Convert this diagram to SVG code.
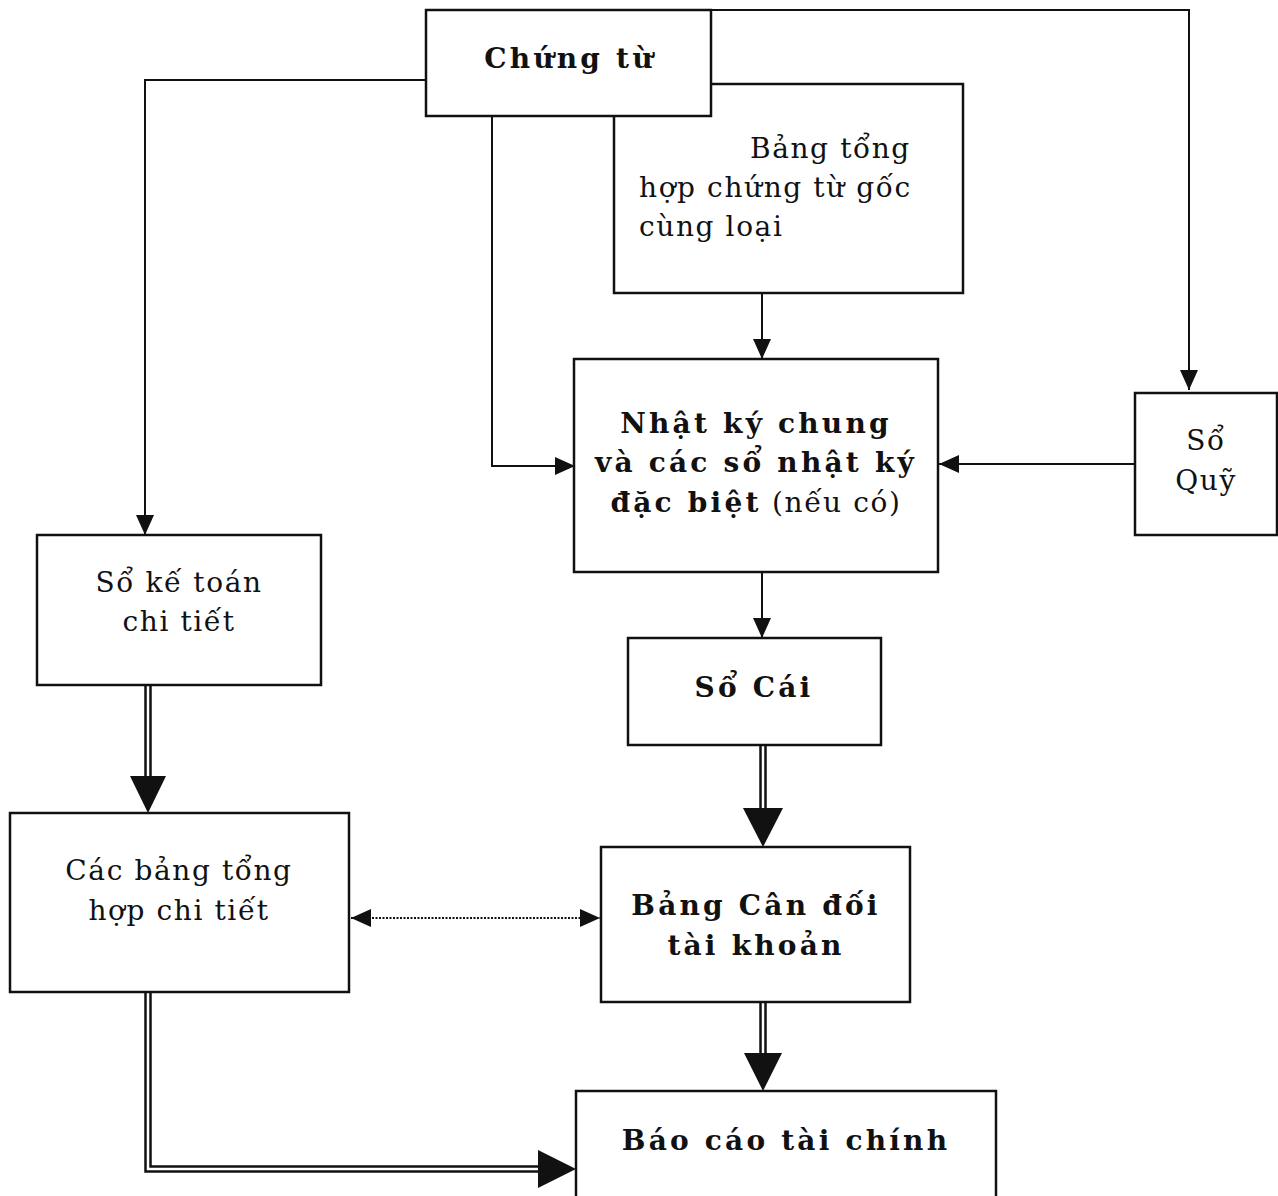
<svg xmlns="http://www.w3.org/2000/svg" width="1278" height="1196" viewBox="0 0 1278 1196">
<defs>
<marker id="a" markerWidth="20" markerHeight="18" refX="20" refY="9" orient="auto" markerUnits="userSpaceOnUse"><path d="M0,0 L20,9 L0,18 Z" fill="#111"/></marker>
<marker id="as" markerWidth="20" markerHeight="18" refX="20" refY="9" orient="auto-start-reverse" markerUnits="userSpaceOnUse"><path d="M0,0 L20,9 L0,18 Z" fill="#111"/></marker>
</defs>
<style>
.b{fill:#fff;stroke:#111;stroke-width:2.5}
.l{fill:none;stroke:#111;stroke-width:2}
.d1{fill:none;stroke:#111;stroke-width:7.5}
.d2{fill:none;stroke:#fff;stroke-width:2.5}
.h{fill:#111}
text{font-family:"DejaVu Serif","Liberation Serif",serif;font-size:28px;fill:#111;letter-spacing:1.6px}
.t{font-weight:bold;letter-spacing:3.2px}
.c{text-anchor:middle}
</style>
<rect width="1278" height="1196" fill="#fff"/>
<g id="connectors">
<polyline class="l" points="711,10 1189,10 1189,390" marker-end="url(#a)"/>
<polyline class="l" points="426,80 145,80 145,535" marker-end="url(#a)"/>
<polyline class="l" points="492,116 492,466 575,466" marker-end="url(#a)"/>
<line class="l" x1="762" y1="293" x2="762" y2="359" marker-end="url(#a)"/>
<line class="l" x1="1135" y1="464" x2="939" y2="464" marker-end="url(#a)"/>
<line class="l" x1="762" y1="572" x2="762" y2="638" marker-end="url(#a)"/>
<line class="l" x1="351" y1="918" x2="600" y2="918" stroke-dasharray="2,1.5" marker-start="url(#as)" marker-end="url(#a)"/>
<line class="d1" x1="148" y1="685" x2="148" y2="780"/><line class="d2" x1="148" y1="685" x2="148" y2="780"/>
<polygon class="h" points="130,776 166,776 148,813"/>
<line class="d1" x1="763" y1="745" x2="763" y2="812"/><line class="d2" x1="763" y1="745" x2="763" y2="812"/>
<polygon class="h" points="743,808 783,808 763,847"/>
<line class="d1" x1="763" y1="1002" x2="763" y2="1056"/><line class="d2" x1="763" y1="1002" x2="763" y2="1056"/>
<polygon class="h" points="744,1053 782,1053 763,1091"/>
<polyline class="d1" points="148,992 148,1169 540,1169"/><polyline class="d2" points="148,992 148,1169 540,1169"/>
<polygon class="h" points="538,1150 576,1169 538,1188"/>
</g>
<g id="bang-tong-hop">
<rect class="b" x="614" y="84" width="349" height="209"/>
<text x="750" y="158">Bảng tổng</text>
<text x="639" y="197">hợp chứng từ gốc</text>
<text x="639" y="236">cùng loại</text>
</g>
<g id="chung-tu">
<rect class="b" x="426" y="10" width="285" height="106"/>
<text class="t c" x="570" y="68">Chứng từ</text>
</g>
<g id="nhat-ky">
<rect class="b" x="574" y="359" width="364" height="213"/>
<text class="t c" x="756" y="433">Nhật ký chung</text>
<text class="t c" x="756" y="472">và các sổ nhật ký</text>
<text class="c" x="756" y="512"><tspan class="t">đặc biệt</tspan> (nếu có)</text>
</g>
<g id="so-quy">
<rect class="b" x="1135" y="393" width="142" height="142"/>
<text class="c" x="1206" y="450">Sổ</text>
<text class="c" x="1206" y="490">Quỹ</text>
</g>
<g id="so-ke-toan">
<rect class="b" x="37" y="535" width="284" height="150"/>
<text class="c" x="179" y="592">Sổ kế toán</text>
<text class="c" x="179" y="631">chi tiết</text>
</g>
<g id="so-cai">
<rect class="b" x="628" y="638" width="253" height="107"/>
<text class="t c" x="754" y="697">Sổ Cái</text>
</g>
<g id="cac-bang">
<rect class="b" x="10" y="813" width="339" height="179"/>
<text class="c" x="179" y="880">Các bảng tổng</text>
<text class="c" x="179" y="920">hợp chi tiết</text>
</g>
<g id="bang-can-doi">
<rect class="b" x="601" y="847" width="309" height="155"/>
<text class="t c" x="756" y="915">Bảng Cân đối</text>
<text class="t c" x="756" y="955">tài khoản</text>
</g>
<g id="bao-cao">
<rect class="b" x="576" y="1091" width="420" height="120"/>
<text class="t c" x="786" y="1150">Báo cáo tài chính</text>
</g>
</svg>
